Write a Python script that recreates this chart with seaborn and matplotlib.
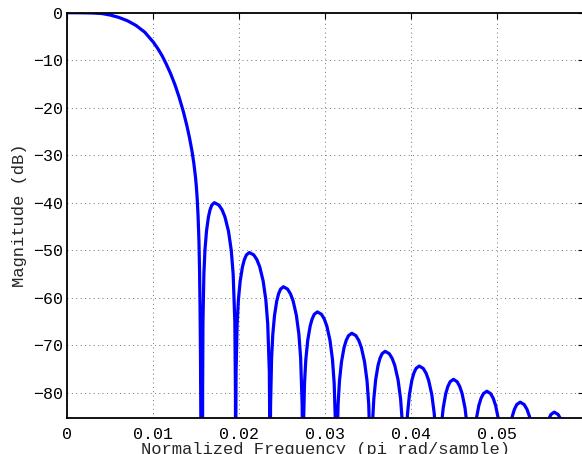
import matplotlib
matplotlib.use("Agg")
import matplotlib.pyplot as plt
import seaborn as sns
import pandas as pd

# ---- data (normalized frequency, magnitude dB) ----
main_f = [0, 0.002, 0.003, 0.004, 0.005, 0.006, 0.007, 0.008, 0.009, 0.010, 0.0105,
          0.011, 0.0115, 0.012, 0.0125, 0.013, 0.0135, 0.0139, 0.0142, 0.0145, 0.0147,
          0.0149, 0.0150, 0.0151, 0.0152, 0.0153, 0.01537, 0.01543, 0.01548, 0.01552, 0.01556]
main_db = [0, -0.03, -0.07, -0.17, -0.5, -1.0, -1.7, -2.7, -4.1, -6.2, -7.5,
           -9.0, -10.8, -12.8, -15.1, -17.8, -20.9, -23.8, -26.3, -29.2, -31.6,
           -34.6, -36.6, -39.2, -42.8, -48, -54, -62, -72, -85, -130]

lobe1_f = [0.01572, 0.015728, 0.015769, 0.015876, 0.015999, 0.016178, 0.016405, 0.016591, 0.016797, 0.01709,
           0.017619, 0.017989, 0.018325, 0.018735, 0.019056, 0.019278, 0.019471, 0.019545, 0.01956]
lobe1_db = [-130, -80, -65, -55, -50, -46, -43, -41.5, -40.5, -40, -40.5, -41.5, -43, -46, -50, -55, -65, -80, -130]

lobe2_f = [0.01956, 0.01957, 0.019618, 0.019742, 0.019886, 0.020094, 0.02036, 0.020578, 0.020818, 0.02116,
           0.021676, 0.022037, 0.022365, 0.022765, 0.023078, 0.023295, 0.023483, 0.023556, 0.02357]
lobe2_db = [-130, -90.5, -75.5, -65.5, -60.5, -56.5, -53.5, -52, -51, -50.5, -51, -52, -53.5, -56.5, -60.5, -65.5, -75.5, -90.5, -130]

lobe3_f = [0.02357, 0.023579, 0.023626, 0.023747, 0.023886, 0.024088, 0.024345, 0.024556, 0.024788, 0.02512,
           0.025604, 0.025943, 0.02625, 0.026625, 0.026919, 0.027122, 0.027299, 0.027366, 0.02738]
lobe3_db = [-130, -97.7, -82.7, -72.7, -67.7, -63.7, -60.7, -59.2, -58.2, -57.7, -58.2, -59.2, -60.7, -63.7, -67.7, -72.7, -82.7, -97.7, -130]

lobe4_f = [0.02738, 0.02739, 0.027441, 0.027573, 0.027725, 0.027944, 0.028225, 0.028455, 0.028708, 0.02907,
           0.029541, 0.029871, 0.03017, 0.030535, 0.030821, 0.031019, 0.031191, 0.031257, 0.03127]
lobe4_db = [-130, -103, -88, -78, -73, -69, -66, -64.5, -63.5, -63, -63.5, -64.5, -66, -69, -73, -78, -88, -103, -130]

lobe5_f = [0.03127, 0.031281, 0.031335, 0.031475, 0.031637, 0.031871, 0.03217, 0.032415, 0.032685, 0.03307,
           0.033545, 0.033878, 0.03418, 0.034549, 0.034837, 0.035037, 0.03521, 0.035277, 0.03529]
lobe5_db = [-130, -107.5, -92.5, -82.5, -77.5, -73.5, -70.5, -69, -68, -67.5, -68, -69, -70.5, -73.5, -77.5, -82.5, -92.5, -107.5, -130]

lobe6_f = [0.03529, 0.0353, 0.035349, 0.035478, 0.035627, 0.035841, 0.036115, 0.036339, 0.036587, 0.03694,
           0.037424, 0.037763, 0.03807, 0.038445, 0.038739, 0.038942, 0.039119, 0.039186, 0.0392]
lobe6_db = [-130, -111.3, -96.3, -86.3, -81.3, -77.3, -74.3, -72.8, -71.8, -71.3, -71.8, -72.8, -74.3, -77.3, -81.3, -86.3, -96.3, -111.3, -130]

lobe7_f = [0.0392, 0.03921, 0.039261, 0.039394, 0.039547, 0.039768, 0.04005, 0.040281, 0.040536, 0.0409,
           0.041371, 0.041701, 0.042, 0.042365, 0.042651, 0.042849, 0.043021, 0.043087, 0.0431]
lobe7_db = [-130, -114.4, -99.4, -89.4, -84.4, -80.4, -77.4, -75.9, -74.9, -74.4, -74.9, -75.9, -77.4, -80.4, -84.4, -89.4, -99.4, -114.4, -130]

lobe8_f = [0.0431, 0.043111, 0.043164, 0.043303, 0.043463, 0.043695, 0.04399, 0.044232, 0.044499, 0.04488,
           0.045312, 0.045615, 0.04589, 0.046225, 0.046488, 0.04667, 0.046827, 0.046888, 0.0469]
lobe8_db = [-130, -117.2, -102.2, -92.2, -87.2, -83.2, -80.2, -78.7, -77.7, -77.2, -77.7, -78.7, -80.2, -83.2, -87.2, -92.2, -102.2, -117.2, -130]

lobe9_f = [0.0469, 0.046911, 0.046967, 0.047113, 0.047281, 0.047525, 0.047835, 0.048089, 0.04837, 0.04877,
           0.049204, 0.049509, 0.049785, 0.050122, 0.050386, 0.050569, 0.050727, 0.050788, 0.0508]
lobe9_db = [-130, -119.7, -104.7, -94.7, -89.7, -85.7, -82.7, -81.2, -80.2, -79.7, -80.2, -81.2, -82.7, -85.7, -89.7, -94.7, -104.7, -119.7, -130]

lobe10_f = [0.0508, 0.050811, 0.050866, 0.05101, 0.051175, 0.051415, 0.05172, 0.05197, 0.052246, 0.05264,
            0.053102, 0.053426, 0.05372, 0.054079, 0.054359, 0.054554, 0.054722, 0.054787, 0.0548]
lobe10_db = [-130, -122, -107, -97, -92, -88, -85, -83.5, -82.5, -82, -82.5, -83.5, -85, -88, -92, -97, -107, -122, -130]

lobe11_f = [0.0548, 0.054811, 0.054865, 0.055005, 0.055167, 0.055401, 0.0557, 0.055945, 0.056215, 0.0566,
            0.057049, 0.057364, 0.05765, 0.057999, 0.058272, 0.058461, 0.058624, 0.058687, 0.0587]
lobe11_db = [-130, -124.1, -109.1, -99.1, -94.1, -90.1, -87.1, -85.6, -84.6, -84.1, -84.6, -85.6, -87.1, -90.1, -94.1, -99.1, -109.1, -124.1, -130]

xtick_vals = [0, 0.01, 0.02, 0.03, 0.04, 0.05]
xtick_labels = ["0", "0.01", "0.02", "0.03", "0.04", "0.05"]
ytick_vals = [0, -10, -20, -30, -40, -50, -60, -70, -80]
x_label = "Normalized Frequency (pi rad/sample)"
y_label = "Magnitude (dB)"

# ---- assemble ----
freqs = (main_f + lobe1_f + lobe2_f + lobe3_f + lobe4_f + lobe5_f + lobe6_f
         + lobe7_f + lobe8_f + lobe9_f + lobe10_f + lobe11_f)
mags = (main_db + lobe1_db + lobe2_db + lobe3_db + lobe4_db + lobe5_db + lobe6_db
        + lobe7_db + lobe8_db + lobe9_db + lobe10_db + lobe11_db)
df = pd.DataFrame({"f": freqs, "db": mags})

sns.set_style("white")
plt.rcParams["font.family"] = ["Liberation Mono", "DejaVu Sans Mono"]

W, H = 582, 454
fig = plt.figure(figsize=(W / 100, H / 100), dpi=100)
ax = fig.add_axes([67.3 / W, (H - 418.3) / H, (583.5 - 67.3) / W, (418.3 - 12.7) / H])

sns.lineplot(data=df, x="f", y="db", sort=False, estimator=None, ax=ax,
             color="#0000ff", linewidth=2.3)

ax.set_xlim(0, 0.06)
ax.set_ylim(-85.4, 0)
ax.set_xticks(xtick_vals, xtick_labels)
ax.set_yticks(ytick_vals)
ax.grid(True, color="0.45", linestyle=(0, (1, 3.5)), linewidth=0.7)
ax.tick_params(direction="in", top=True, right=True, length=4, width=0.8,
               labelsize=12, colors="black", pad=6)
ax.tick_params(axis="y", pad=3.3)
for s in ax.spines.values():
    s.set_color("black")
    s.set_linewidth(1.3)
ax.set_xlabel(x_label, fontsize=12.3, labelpad=0)
ax.set_ylabel(y_label, fontsize=12.3)
ax.yaxis.set_label_coords(-0.079, 0.5)

fig.savefig("out.png", dpi=100)
